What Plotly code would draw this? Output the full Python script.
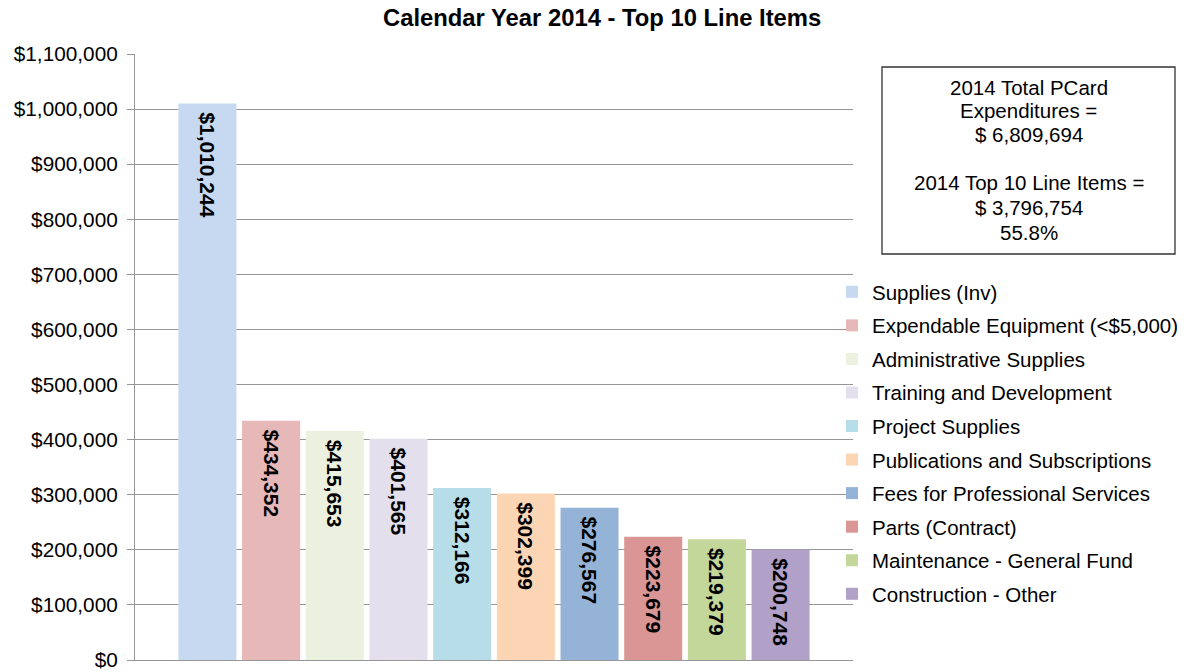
import plotly.graph_objects as go

# Top 10 PCard line items, calendar year 2014
line_items = [
    "Supplies (Inv)",
    "Expendable Equipment (<$5,000)",
    "Administrative Supplies",
    "Training and Development",
    "Project Supplies",
    "Publications and Subscriptions",
    "Fees for Professional Services",
    "Parts (Contract)",
    "Maintenance - General Fund",
    "Construction - Other",
]
amounts = [1010244, 434352, 415653, 401565, 312166, 302399, 276567, 223679, 219379, 200748]
bar_colors = [
    "#C6D9F0", "#E6B8B7", "#EBF1DE", "#E4DFEC", "#B7DEE8",
    "#FCD5B4", "#95B3D7", "#DA9694", "#C4D79B", "#B1A0C7",
]
category = "Calendar Year 2014"

# Summary box text, one entry per line (blank line separates the two parts)
summary_lines = [
    "2014 Total PCard",
    "Expenditures =",
    "$ 6,809,694",
    "",
    "2014 Top 10 Line Items =",
    "$ 3,796,754",
    "55.8%",
]

FONT = "Liberation Sans, Arial, sans-serif"
GRID = "#969696"

# plot area in pixels
L, R, T, B = 135, 853, 54, 660
W, H = 1190, 672


def px_x(x):
    return (x - L) / (R - L)


def px_y(y):
    return (B - y) / (B - T)


fig = go.Figure()
for name, value, color in zip(line_items, amounts, bar_colors):
    fig.add_trace(go.Bar(
        name=name,
        x=[category],
        y=[value],
        legendgroup=name,
        marker=dict(color=color, line=dict(width=0)),
        texttemplate="\u00a0%{y:$,.0f}",
        textposition="inside",
        insidetextanchor="end",
        textangle=90,
        constraintext="none",
        insidetextfont=dict(family=FONT, size=21, color="black", weight="bold"),
        hoverinfo="skip",
    ))

fig.update_layout(
    width=W,
    height=H,
    margin=dict(l=L, r=W - R, t=T, b=H - B, autoexpand=False),
    paper_bgcolor="white",
    plot_bgcolor="white",
    font=dict(family=FONT, size=20, color="black"),
    title=dict(
        text="Calendar Year 2014 - Top 10 Line Items",
        font=dict(family=FONT, size=23.8, color="black", weight="bold"),
        x=0.506, xanchor="center", y=0.973, yanchor="middle",
    ),
    barmode="group",
    bargap=0.113,
    bargroupgap=0.089,
    showlegend=True,
    legend=dict(
        x=px_x(832), xanchor="left",
        y=px_y(272), yanchor="top",
        font=dict(family=FONT, size=20.5, color="black"),
        tracegroupgap=3.9,
        bgcolor="rgba(0,0,0,0)",
        borderwidth=0,
        itemclick=False,
    ),
    xaxis=dict(
        type="category",
        showticklabels=False,
        showgrid=False,
        showline=True,
        linecolor=GRID,
        linewidth=1,
        ticks="",
        automargin=False,
        fixedrange=True,
    ),
    yaxis=dict(
        range=[0, 1100000],
        dtick=100000,
        tick0=0,
        tickprefix="$",
        tickformat=",d",
        showgrid=True,
        gridcolor=GRID,
        gridwidth=1,
        showline=True,
        linecolor=GRID,
        linewidth=1,
        ticks="outside",
        ticklen=7,
        tickcolor=GRID,
        ticklabelstandoff=5,
        zeroline=False,
        automargin=False,
        tickfont=dict(family=FONT, size=20.8, color="black"),
        fixedrange=True,
    ),
)

# Summary box
fig.add_shape(
    type="rect", xref="paper", yref="paper",
    x0=px_x(882), x1=px_x(1175), y0=px_y(254), y1=px_y(67),
    line=dict(color="#333333", width=1.3),
    fillcolor="white",
    layer="above",
)
line_centers = [87, 110, 134, 158, 183, 207, 232]
for text, yc in zip(summary_lines, line_centers):
    if not text:
        continue
    fig.add_annotation(
        xref="paper", yref="paper",
        x=px_x(1028.5), y=px_y(yc),
        xanchor="center", yanchor="middle",
        text=text,
        showarrow=False,
        font=dict(family=FONT, size=20.5, color="black"),
    )

fig.write_html("out.html")
